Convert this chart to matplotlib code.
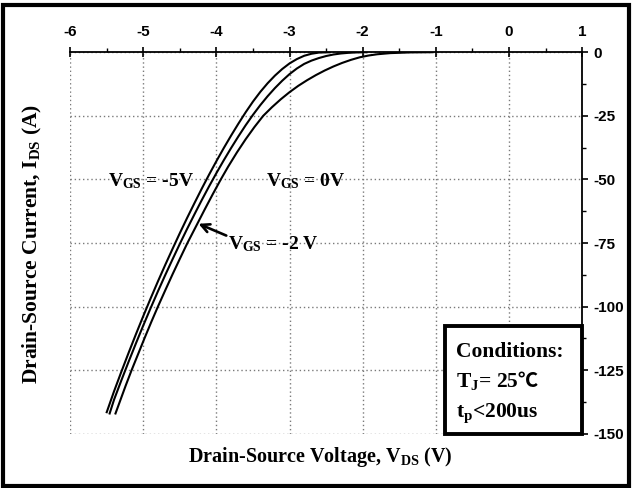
import matplotlib
matplotlib.use("Agg")
import matplotlib.pyplot as plt
from matplotlib.ticker import MultipleLocator
from matplotlib.patches import Rectangle

# Hand-read points for the three curves (V_DS in V, I_DS in A)
vds_m5 = [-2.45, -2.60, -2.70, -2.80, -2.90, -3.00, -3.10, -3.20, -3.30, -3.40,
          -3.50, -3.60, -3.70, -3.80, -3.90, -4.00, -4.10, -4.20, -4.30, -4.40,
          -4.50, -4.60, -4.70, -4.80, -4.90, -5.00, -5.10, -5.20, -5.30, -5.40,
          -5.50]
ids_m5 = [0.0, -0.15, -0.6, -1.4, -2.7, -4.4, -6.6, -9.2, -12.2, -15.6,
          -19.4, -23.6, -28.1, -32.8, -37.7, -42.8, -48.1, -53.6, -59.3, -65.1,
          -71.1, -77.3, -83.6, -90.1, -96.8, -103.7, -110.8, -118.1, -125.6, -133.3,
          -141.5]

vds_m2 = [-1.95, -2.10, -2.20, -2.30, -2.40, -2.50, -2.60, -2.70, -2.80, -2.90,
          -3.00, -3.10, -3.20, -3.30, -3.40, -3.50, -3.60, -3.70, -3.80, -3.90,
          -4.00, -4.10, -4.20, -4.30, -4.40, -4.50, -4.60, -4.70, -4.80, -4.90,
          -5.00, -5.10, -5.20, -5.30, -5.40, -5.46]
ids_m2 = [0.0, -0.1, -0.25, -0.5, -0.9, -1.5, -2.3, -3.3, -4.6, -6.4,
          -8.6, -11.2, -14.1, -17.3, -20.8, -24.6, -28.7, -33.1, -37.7, -42.5,
          -47.5, -52.7, -58.1, -63.7, -69.4, -75.3, -81.4, -87.6, -94.0, -100.6,
          -107.4, -114.4, -121.6, -129.0, -136.6, -142.0]

vds_0 = [-1.05, -1.35, -1.62, -1.80, -1.92, -2.04, -2.16, -2.28, -2.40, -2.52,
         -2.64, -2.76, -2.88, -3.00, -3.12, -3.24, -3.36, -3.48, -3.60, -3.72,
         -3.84, -3.94, -4.05, -4.16, -4.28, -4.40, -4.50, -4.60, -4.70, -4.80,
         -4.89, -4.98, -5.07, -5.16, -5.24, -5.31, -5.38]
ids_0 = [0.0, -0.08, -0.35, -0.8, -1.3, -2.0, -3.0, -4.2, -5.6, -7.2,
         -9.0, -11.0, -13.2, -15.7, -18.5, -21.6, -25.0, -29.4, -34.2, -39.4,
         -45.0, -50.0, -55.8, -61.8, -68.5, -75.2, -81.2, -87.3, -93.6, -100.0,
         -106.0, -112.2, -118.6, -125.0, -131.0, -136.5, -142.0]

x_ticks = [-6, -5, -4, -3, -2, -1, 0, 1]
y_ticks = [0, -25, -50, -75, -100, -125, -150]

serif = ["Liberation Serif", "DejaVu Serif"]
plt.rcParams["axes.unicode_minus"] = False
plt.rcParams["mathtext.fontset"] = "custom"
plt.rcParams["mathtext.rm"] = "Liberation Serif:bold"
plt.rcParams["mathtext.bf"] = "Liberation Serif:bold"
plt.rcParams["mathtext.it"] = "Liberation Serif:bold"
plt.rcParams["mathtext.default"] = "rm"

fig = plt.figure(figsize=(6.32, 4.88), dpi=100)
ax = fig.add_axes([0.111, 0.111, 0.810, 0.782])

for xs, ys in [(vds_m5, ids_m5), (vds_m2, ids_m2), (vds_0, ids_0)]:
    ax.plot(xs, ys, color="black", lw=1.5, zorder=3)

ax.set_xlim(-6, 1)
ax.set_ylim(-150, 0)
ax.set_xticks(x_ticks)
ax.set_yticks(y_ticks)
ax.xaxis.set_minor_locator(MultipleLocator(0.5))
ax.yaxis.set_minor_locator(MultipleLocator(12.5))
ax.xaxis.tick_top()
ax.yaxis.tick_right()
ax.tick_params(axis="x", which="major", direction="inout", length=7, width=1.2, pad=6)
ax.tick_params(axis="x", which="minor", direction="out", length=3, width=1)
ax.tick_params(axis="y", which="major", direction="out", length=4, width=1.2, pad=4)
ax.tick_params(axis="y", which="minor", direction="out", length=3, width=1)
for lab in ax.get_xticklabels() + ax.get_yticklabels():
    lab.set_fontfamily("Liberation Sans")
    lab.set_fontweight("bold")
    lab.set_fontsize(11)

ax.grid(True, which="major", color="#7a7a7a", linestyle=(0, (1, 2)), lw=1)
ax.spines["left"].set_visible(False)
ax.spines["bottom"].set_visible(False)
ax.spines["top"].set_linewidth(1.3)
ax.spines["right"].set_linewidth(1.3)

# curve labels
ax.text(-4.31, -50.5, r"$\mathrm{V_{GS}}$ = -5V", family=serif, weight="bold",
        fontsize=14, ha="right", va="center")
ax.text(-3.32, -50.5, r"$\mathrm{V_{GS}}$ = 0V", family=serif, weight="bold",
        fontsize=14, ha="left", va="center")
ax.text(-3.84, -75.5, r"$\mathrm{V_{GS}}$ = -2 V", family=serif, weight="bold",
        fontsize=14, ha="left", va="center")
ax.annotate("", xy=(-4.28, -67.0), xytext=(-3.83, -72.5),
            arrowprops=dict(arrowstyle="->", color="black", lw=1.9,
                            mutation_scale=15))

# conditions box
ax.add_patch(Rectangle((-0.87, -150), 1.87, 42.4, fill=True, facecolor="white",
                       edgecolor="black", lw=2.8, zorder=4, clip_on=False))
cond_x = -0.72
cond_y = [-119.9, -131.7, -143.5]
ax.text(cond_x, cond_y[0], "Conditions:", family=serif, weight="bold",
        fontsize=15.5, ha="left", va="baseline", zorder=5)
t_j = ax.text(cond_x, cond_y[1], r"$\mathrm{T_J}$= 25", family=serif, weight="bold",
              fontsize=15.5, ha="left", va="baseline", zorder=5)
ax.annotate("℃", xy=(1.0, cond_y[1]), xycoords=(t_j, "data"),
            xytext=(-1.5, 0), textcoords="offset points",
            family=["Noto Sans CJK SC", "DejaVu Sans"], fontsize=14.5,
            weight="bold", ha="left", va="baseline", zorder=5)
ax.text(cond_x, cond_y[2], r"$\mathrm{t_p}$<200us", family=serif, weight="bold",
        fontsize=15.5, ha="left", va="baseline", zorder=5)

fig.text(0.506, 0.063, r"Drain-Source Voltage, $\mathrm{V_{DS}}$ (V)", family=serif,
         weight="bold", fontsize=14.5, ha="center", va="center")
fig.text(0.052, 0.50, r"Drain-Source Current, $\mathrm{I_{DS}}$ (A)", family=serif,
         weight="bold", fontsize=15.5, ha="center", va="center", rotation=90)

# outer frame
fig.add_artist(Rectangle((0.004, 0.004), 0.992, 0.986, transform=fig.transFigure,
                         fill=False, edgecolor="black", lw=3))

fig.savefig("out.png", dpi=100)
